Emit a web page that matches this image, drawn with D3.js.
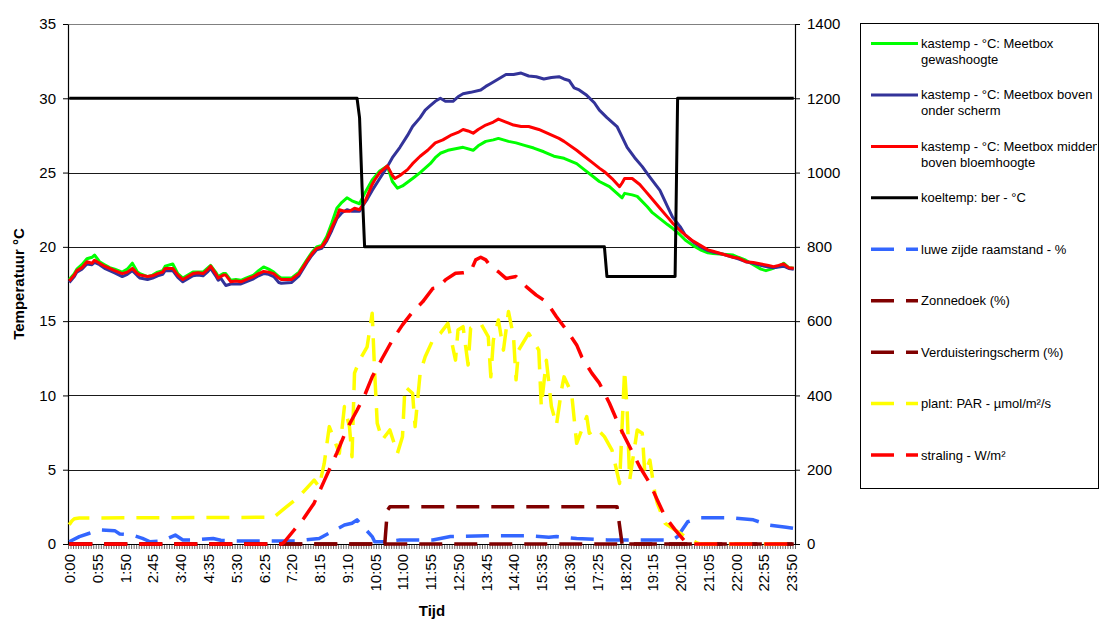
<!DOCTYPE html>
<html><head><meta charset="utf-8">
<script src="https://cdn.jsdelivr.net/npm/d3@7"></script>
<style>
body{margin:0;background:#fff}
svg{display:block}
text{font-family:"Liberation Sans",Arial,sans-serif;fill:#000}
</style>
</head><body>
<svg id="c" width="1100" height="619"></svg>
<script>
// ---------- DATA ----------
const categories = d3.range(288).map(i => `${Math.floor(i*5/60)}:${String(i*5%60).padStart(2,"0")}`);
const tickLabels = ["0:00","0:55","1:50","2:45","3:40","4:35","5:30","6:25","7:20","8:15","9:10","10:05","11:00","11:55","12:50","13:45","14:40","15:35","16:30","17:25","18:20","19:15","20:10","21:05","22:00","22:55","23:50"];
const leftTicks = [0,5,10,15,20,25,30,35];
const rightTicks = [0,200,400,600,800,1000,1200,1400];

const tempGewas = [["0:00",17.8],["0:10",18.2],["0:15",18.5],["0:25",18.8],["0:35",19.2],["0:45",19.3],["0:50",19.45],["1:00",19.0],["1:10",18.8],["1:20",18.6],["1:30",18.5],["1:45",18.3],["1:55",18.5],["2:05",18.9],["2:15",18.3],["2:20",18.2],["2:35",18.0],["2:45",18.1],["2:55",18.3],["3:05",18.4],["3:10",18.7],["3:25",18.85],["3:35",18.2],["3:45",17.9],["3:55",18.1],["4:05",18.3],["4:15",18.3],["4:25",18.3],["4:35",18.6],["4:40",18.75],["4:50",18.3],["4:55",18.0],["5:05",18.2],["5:10",18.2],["5:20",17.75],["5:30",17.8],["5:40",17.75],["5:50",17.9],["6:05",18.1],["6:15",18.4],["6:25",18.65],["6:35",18.5],["6:45",18.3],["6:55",18.0],["7:00",17.9],["7:20",17.9],["7:35",18.3],["7:50",19.1],["8:00",19.6],["8:10",20.0],["8:20",20.1],["8:30",20.7],["8:40",21.6],["8:50",22.6],["9:00",23.0],["9:10",23.3],["9:20",23.1],["9:35",22.9],["9:45",23.6],["9:55",24.2],["10:00",24.5],["10:15",25.1],["10:30",25.45],["10:40",24.4],["10:50",23.95],["11:00",24.1],["11:20",24.6],["11:35",25.0],["11:55",25.6],["12:05",26.0],["12:15",26.3],["12:30",26.5],["12:45",26.6],["13:00",26.7],["13:20",26.5],["13:30",26.8],["13:45",27.1],["14:00",27.2],["14:10",27.3],["14:30",27.1],["14:45",27.0],["15:00",26.85],["15:20",26.65],["15:40",26.4],["16:00",26.1],["16:20",25.96],["16:45",25.6],["17:00",25.2],["17:15",24.8],["17:30",24.4],["17:50",24.05],["18:05",23.6],["18:15",23.3],["18:20",23.6],["18:35",23.5],["18:45",23.4],["19:05",22.7],["19:15",22.3],["19:30",21.9],["19:45",21.5],["19:55",21.25],["20:10",20.8],["20:20",20.46],["20:35",20.1],["20:50",19.8],["21:05",19.6],["21:15",19.56],["21:35",19.5],["21:55",19.45],["22:05",19.3],["22:20",19.1],["22:35",18.8],["22:50",18.5],["23:00",18.4],["23:10",18.5],["23:25",18.7],["23:35",18.9],["23:45",18.6],["23:55",18.56]];

const tempBoven = [["0:00",17.6],["0:10",18.0],["0:15",18.3],["0:25",18.5],["0:35",18.85],["0:45",18.8],["0:50",18.95],["1:00",18.8],["1:10",18.55],["1:20",18.4],["1:30",18.25],["1:45",18.0],["1:55",18.15],["2:05",18.4],["2:15",18.05],["2:20",17.9],["2:35",17.8],["2:45",17.9],["2:55",18.05],["3:05",18.15],["3:10",18.4],["3:25",18.4],["3:35",17.95],["3:45",17.65],["3:55",17.85],["4:05",18.05],["4:15",18.1],["4:25",18.05],["4:35",18.35],["4:40",18.55],["4:50",18.05],["4:55",17.75],["5:00",17.9],["5:10",17.4],["5:20",17.5],["5:30",17.5],["5:40",17.5],["5:50",17.65],["6:05",17.85],["6:15",18.05],["6:25",18.2],["6:35",18.15],["6:45",18.0],["6:55",17.6],["7:00",17.55],["7:20",17.6],["7:35",18.05],["7:50",18.9],["8:00",19.4],["8:10",19.8],["8:20",19.9],["8:30",20.4],["8:40",21.1],["8:50",21.9],["9:00",22.3],["9:10",22.5],["9:20",22.4],["9:35",22.4],["9:40",22.7],["9:50",23.2],["10:00",23.8],["10:15",24.6],["10:30",25.4],["10:40",26.0],["10:55",26.7],["11:10",27.5],["11:20",28.1],["11:35",28.7],["11:45",29.2],["11:55",29.5],["12:05",29.8],["12:15",30.0],["12:25",29.8],["12:40",29.8],["12:50",30.1],["13:00",30.3],["13:15",30.4],["13:35",30.56],["13:45",30.8],["13:55",31.0],["14:10",31.3],["14:25",31.6],["14:40",31.6],["14:55",31.7],["15:10",31.5],["15:25",31.45],["15:40",31.3],["15:55",31.4],["16:10",31.45],["16:20",31.3],["16:30",31.2],["16:40",30.7],["16:50",30.56],["17:05",30.2],["17:20",29.7],["17:30",29.2],["17:45",28.7],["18:05",28.1],["18:15",27.4],["18:25",26.7],["18:40",26.0],["18:55",25.4],["19:10",24.7],["19:30",23.8],["19:45",22.7],["19:55",22.0],["20:10",21.36],["20:20",20.8],["20:35",20.35],["20:50",20.0],["21:05",19.75],["21:15",19.65],["21:35",19.5],["21:55",19.3],["22:05",19.2],["22:20",19.0],["22:35",18.9],["22:50",18.75],["23:05",18.65],["23:15",18.6],["23:25",18.65],["23:35",18.7],["23:45",18.55],["23:55",18.5]];

const tempMidden = [["0:00",17.7],["0:10",18.1],["0:15",18.4],["0:25",18.6],["0:35",19.0],["0:45",18.9],["0:50",19.1],["1:00",18.9],["1:10",18.7],["1:20",18.55],["1:30",18.4],["1:45",18.2],["1:55",18.3],["2:05",18.55],["2:15",18.2],["2:20",18.1],["2:35",18.0],["2:45",18.05],["2:55",18.2],["3:05",18.3],["3:10",18.55],["3:25",18.55],["3:35",18.1],["3:45",17.8],["3:55",18.0],["4:05",18.2],["4:15",18.25],["4:25",18.2],["4:35",18.5],["4:40",18.7],["4:50",18.2],["4:55",17.9],["5:05",18.1],["5:10",18.1],["5:20",17.65],["5:30",17.7],["5:40",17.65],["5:50",17.8],["6:05",18.0],["6:15",18.2],["6:25",18.35],["6:35",18.3],["6:45",18.2],["6:55",17.9],["7:00",17.8],["7:20",17.8],["7:35",18.2],["7:50",19.0],["8:00",19.5],["8:10",19.9],["8:20",20.0],["8:30",20.5],["8:40",21.3],["8:50",22.0],["8:55",22.5],["9:05",22.4],["9:15",22.4],["9:25",22.6],["9:35",22.5],["9:45",23.0],["9:50",23.4],["10:00",24.2],["10:05",24.5],["10:15",25.0],["10:30",25.45],["10:40",24.8],["10:45",24.6],["10:55",24.8],["11:10",25.2],["11:20",25.6],["11:35",26.1],["11:50",26.5],["12:05",27.0],["12:20",27.2],["12:35",27.5],["12:50",27.7],["13:00",27.9],["13:10",27.8],["13:20",27.65],["13:30",27.9],["13:45",28.2],["14:00",28.4],["14:10",28.6],["14:25",28.4],["14:40",28.2],["14:55",28.1],["15:10",28.1],["15:30",27.9],["15:50",27.6],["16:10",27.3],["16:20",27.1],["16:45",26.5],["17:00",26.1],["17:15",25.7],["17:30",25.3],["17:40",25.06],["17:55",24.6],["18:10",24.05],["18:15",24.3],["18:20",24.6],["18:35",24.6],["18:50",24.2],["19:00",23.8],["19:10",23.4],["19:20",23.0],["19:30",22.6],["19:45",22.0],["19:55",21.6],["20:10",21.1],["20:20",20.8],["20:35",20.4],["20:50",20.1],["21:05",19.8],["21:15",19.7],["21:35",19.5],["21:55",19.3],["22:05",19.25],["22:20",19.0],["22:35",18.95],["22:50",18.85],["23:05",18.75],["23:15",18.67],["23:25",18.75],["23:35",18.85],["23:45",18.6],["23:55",18.56]];

const koeltemp = [["0:00",30],["9:30",30],["9:35",28.7],["9:40",24],["9:45",20],["17:40",20],["17:45",18],["20:00",18],["20:05",30],["23:55",30]];

const raamstand = [["0:00",6],["0:20",20],["0:40",29],["1:00",38],["1:30",36],["1:40",27],["2:05",24],["2:25",15],["2:40",6],["3:00",8],["3:15",15],["3:30",24],["3:45",11],["4:10",11],["4:45",15],["5:00",10],["5:30",8],["7:30",8],["8:15",15],["8:40",33],["9:05",51],["9:20",56],["9:30",65],["10:00",20],["10:05",6],["10:25",6],["10:55",11],["12:00",11],["12:35",20],["13:45",22],["15:10",22],["15:50",18],["16:05",20],["16:45",15],["17:45",11],["19:55",11],["20:05",20],["20:25",60],["20:50",71],["21:50",71],["22:35",65],["23:05",51],["23:40",45],["23:55",42]];

const zonnedoek = [["0:00",0],["10:25",0],["10:30",90],["10:35",100],["18:05",100],["18:15",0],["23:55",0]];

const verduistering = [["0:00",0],["23:55",0]];

const par = [["0:00",52],["0:05",62],["0:10",68],["0:20",70],["6:45",72],["7:10",100],["7:35",127],["7:50",150],["8:05",172],["8:15",154],["8:25",217],["8:35",316],["8:45",280],["8:55",244],["9:05",370],["9:15",316],["9:20",235],["9:25",460],["9:35",495],["9:50",531],["10:00",621],["10:05",460],["10:10",325],["10:20",280],["10:35",307],["10:50",244],["11:00",289],["11:05",424],["11:20",406],["11:25",316],["11:35",460],["11:45",504],["12:00",549],["12:15",567],["12:30",594],["12:45",495],["12:50",576],["13:00",585],["13:10",482],["13:15",581],["13:35",594],["13:50",558],["13:55",450],["14:00",549],["14:10",603],["14:20",522],["14:30",626],["14:40",558],["14:45",442],["14:50",522],["15:10",567],["15:30",522],["15:35",370],["15:45",495],["15:55",370],["16:05",320],["16:15",415],["16:20",450],["16:35",406],["16:45",271],["17:05",343],["17:10",298],["17:25",311],["17:40",289],["17:55",253],["18:10",163],["18:20",468],["18:25",361],["18:30",172],["18:45",307],["18:55",298],["19:00",190],["19:10",226],["19:20",136],["19:25",109],["19:40",56],["20:10",29],["20:25",15],["20:45",2],["20:50",0],["23:55",0]];

const straling = [["0:00",0],["7:00",0],["7:05",4],["7:25",37],["7:45",70],["8:05",110],["8:25",170],["8:35",200],["8:50",245],["9:10",310],["9:30",360],["9:45",400],["10:00",450],["10:20",500],["10:40",549],["11:00",590],["11:20",625],["11:40",652],["12:00",688],["12:10",690],["12:25",711],["12:45",729],["13:00",730],["13:15",733],["13:25",765],["13:35",772],["13:45",765],["13:55",747],["14:10",733],["14:25",715],["14:45",720],["15:05",693],["15:25",670],["15:45",652],["16:05",612],["16:25",576],["16:45",536],["16:55",504],["17:15",460],["17:30",433],["17:50",379],["18:10",316],["18:30",262],["18:50",208],["19:10",163],["19:25",118],["19:40",74],["20:00",38],["20:20",6],["20:25",0],["23:55",0]];

const legendNames = [
  ["kastemp - °C: Meetbox","gewashoogte"],
  ["kastemp - °C: Meetbox boven","onder scherm"],
  ["kastemp - °C: Meetbox midden","boven bloemhoogte"],
  ["koeltemp: ber - °C"],
  ["luwe zijde raamstand - %"],
  ["Zonnedoek (%)"],
  ["Verduisteringscherm (%)"],
  ["plant: PAR - µmol/m²/s"],
  ["straling - W/m²"]
];

// ---------- CHART ----------
const svg = d3.select("#c");
const L = 68, R = 795, T = 24, B = 544;
const x = d3.scaleBand().domain(categories).range([L, R]).paddingInner(0).paddingOuter(0);
const xc = c => x(c) + x.bandwidth() / 2;
const yL = d3.scaleLinear().domain([0, 35]).range([B, T]);
const yR = d3.scaleLinear().domain([0, 1400]).range([B, T]);

// gridlines
svg.append("g").selectAll("line").data(leftTicks.filter(v => v > 0)).join("line")
  .attr("x1", L).attr("x2", R)
  .attr("y1", d => Math.round(yL(d)) + 0.5).attr("y2", d => Math.round(yL(d)) + 0.5)
  .attr("stroke", d => d === 35 ? "#808080" : "#1a1a1a").attr("stroke-width", 1);

// left axis
const gL = svg.append("g").attr("transform", `translate(${L},0)`)
  .call(d3.axisLeft(yL).tickValues(leftTicks).tickSize(5).tickSizeOuter(0).tickPadding(7).tickFormat(d3.format("d")));
// right axis
const gR = svg.append("g").attr("transform", `translate(${R},0)`)
  .call(d3.axisRight(yR).tickValues(rightTicks).tickSize(5).tickSizeOuter(0).tickPadding(7).tickFormat(d3.format("d")));
// bottom axis: minor tick per category boundary
const xi = d3.scaleLinear().domain([0, categories.length]).range([L, R]);
const gB = svg.append("g").attr("transform", `translate(0,${B})`)
  .call(d3.axisBottom(xi).tickValues(d3.range(categories.length + 1)).tickSize(5).tickSizeOuter(0).tickFormat(""));
[gL, gR, gB].forEach(g => {
  g.select(".domain").attr("stroke", "#000").attr("stroke-width", 1.2);
  g.selectAll(".tick line").attr("stroke", "#000");
  g.selectAll("text").style("font-size", "15px").attr("fill", "#000");
});
gB.selectAll(".tick line").attr("stroke-width", 0.6);

// x tick labels (rotated)
svg.append("g").selectAll("text").data(tickLabels).join("text")
  .attr("transform", d => `translate(${xc(d) + 0.5},${B + 10}) rotate(-90)`)
  .attr("text-anchor", "end").attr("dy", "0.36em")
  .style("font-size", "15px").text(d => d);

// titles
svg.append("text").attr("transform", `translate(19,${(T + B) / 2}) rotate(-90)`)
  .attr("text-anchor", "middle").attr("dy", "0.35em")
  .style("font-size", "15px").style("font-weight", "bold").text("Temperatuur °C");
svg.append("text").attr("x", 432).attr("y", 616).attr("text-anchor", "middle")
  .style("font-size", "15px").style("font-weight", "bold").text("Tijd");

// series
const series = [
  {data: tempGewas, axis: yL, color: "#00ff00", w: 3, dash: null},
  {data: tempBoven, axis: yL, color: "#333399", w: 3, dash: null},
  {data: tempMidden, axis: yL, color: "#ff0000", w: 3, dash: null},
  {data: koeltemp, axis: yL, color: "#000000", w: 3, dash: null},
  {data: raamstand, axis: yR, color: "#3366ff", w: 3.5, dash: "23,12"},
  {data: zonnedoek, axis: yR, color: "#800000", w: 3.5, dash: "23,12"},
  {data: verduistering, axis: yR, color: "#800000", w: 3.5, dash: "23,12"},
  {data: par, axis: yR, color: "#ffff00", w: 3.5, dash: "23,12"},
  {data: straling, axis: yR, color: "#ff0000", w: 3.5, dash: "23,12"}
];
const plot = svg.append("g");
series.forEach(s => {
  const line = d3.line().x(d => xc(d[0])).y(d => s.axis(d[1]));
  plot.append("path").datum(s.data).attr("d", line)
    .attr("fill", "none").attr("stroke", s.color).attr("stroke-width", s.w)
    .attr("stroke-linejoin", "round").attr("stroke-linecap", "butt")
    .attr("stroke-dasharray", s.dash);
});

// legend
const LX = 860, LY = 23, LW = 238, LH = 465;
svg.append("clipPath").attr("id", "lgclip").append("rect")
  .attr("x", LX).attr("y", LY).attr("width", LW - 1).attr("height", LH);
svg.append("rect").attr("x", LX + 0.5).attr("y", LY + 0.5).attr("width", LW).attr("height", LH)
  .attr("fill", "#fff").attr("stroke", "#000").attr("stroke-width", 1);
const rowY = d3.scaleLinear().domain([0, 8]).range([43.5, 455]);
const lg = svg.append("g").attr("clip-path", "url(#lgclip)");
series.forEach((s, i) => {
  const yy = rowY(i);
  lg.append("line").attr("x1", 871).attr("x2", 918).attr("y1", yy).attr("y2", yy)
    .attr("stroke", s.color).attr("stroke-width", s.w).attr("stroke-dasharray", s.dash);
  const t = lg.append("text").attr("x", 921).attr("y", yy).style("font-size", "13px");
  legendNames[i].forEach((n, k) => {
    t.append("tspan").attr("x", 921).attr("dy", k === 0 ? "0.35em" : "16px").text(n);
  });
});
</script>
</body></html>
